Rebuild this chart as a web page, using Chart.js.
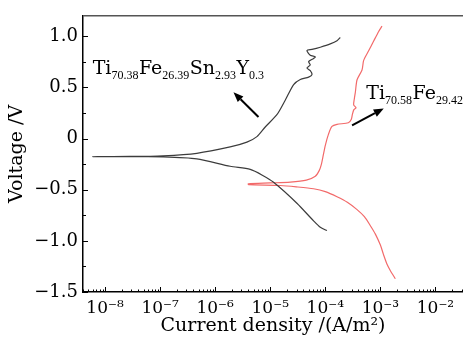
<!DOCTYPE html>
<html><head><meta charset="utf-8">
<script src="https://cdn.jsdelivr.net/npm/chart.js@4/dist/chart.umd.min.js"></script>
<style>html,body{margin:0;padding:0;background:#fff;}#wrap{width:463px;height:339px;position:relative;}</style>
</head><body><div id="wrap"><canvas id="c" width="463" height="339"></canvas></div>
<script>
// ---- data (current density A/m², voltage V) ----
const X_TICK_EXPONENTS = [-8, -7, -6, -5, -4, -3, -2];
const Y_TICKS = [-1.5, -1.0, -0.5, 0, 0.5, 1.0];

// Ti70.38Fe26.39Sn2.93Y0.3 : cathodic end -> corrosion point -> anodic end
const snY_current = [1.07e-4, 8.11e-5, 6.12e-5, 3.05e-5, 1.15e-5, 7.17e-6, 4.33e-6, 1.87e-6, 4.64e-7, 1.135e-7, 2.85e-8, 5.97e-9,
  2.85e-8, 1.135e-7, 4.64e-7, 1.87e-6, 3.77e-6, 5.73e-6, 8.11e-6, 1.32e-5, 1.87e-5, 2.66e-5, 3.51e-5, 4.97e-5, 5.73e-5, 5.33e-5,
  4.64e-5, 5.33e-5, 4.97e-5, 6.12e-5, 6.58e-5, 5.33e-5, 4.64e-5, 5.73e-5, 8.11e-5, 1.23e-4, 1.63e-4, 1.87e-4];
const snY_voltage = [-0.899, -0.868, -0.805, -0.632, -0.427, -0.358, -0.302, -0.271, -0.198, -0.179, -0.178, -0.176,
  -0.175, -0.168, -0.144, -0.082, -0.035, 0.019, 0.113, 0.233, 0.375, 0.528, 0.578, 0.601, 0.625, 0.663,
  0.689, 0.720, 0.752, 0.783, 0.799, 0.814, 0.861, 0.871, 0.893, 0.925, 0.956, 0.988];

// Ti70.58Fe29.42
const fe_current = [1.87e-3, 1.52e-3, 1.32e-3, 1.135e-3, 1.0e-3, 8.11e-4, 6.58e-4, 5.12e-4, 3.77e-4, 2.51e-4, 1.63e-4, 1.0e-4, 6.12e-5, 2.97e-5, 1.52e-5, 4.03e-6,
  3.98e-6, 1.0e-5, 2.31e-5, 4.52e-5, 6.58e-5, 7.78e-5, 8.45e-5, 9.2e-5, 1.0e-4, 1.135e-4, 1.32e-4, 1.63e-4, 2.62e-4, 2.97e-4, 3.10e-4, 3.30e-4,
  3.61e-4, 3.27e-4, 3.36e-4, 3.51e-4, 3.77e-4, 4.64e-4, 4.97e-4, 6.12e-4, 7.55e-4, 9.31e-4, 1.07e-3];
const fe_voltage = [-1.371, -1.292, -1.229, -1.132, -1.041, -0.934, -0.852, -0.764, -0.695, -0.623, -0.569, -0.519, -0.491, -0.472, -0.459, -0.450,
  -0.443, -0.434, -0.425, -0.406, -0.368, -0.311, -0.255, -0.160, -0.066, 0.038, 0.118, 0.139, 0.154, 0.189, 0.236, 0.283,
  0.302, 0.330, 0.387, 0.453, 0.575, 0.670, 0.764, 0.858, 0.953, 1.047, 1.099];

// annotation labels (anchored in data space)
const label1_parts = [["Ti", "70.38"], ["Fe", "26.39"], ["Sn", "2.93"], ["Y", "0.3"]];
const label1_anchor = [5.97e-9, 0.632];
const arrow1 = [[6.12e-6, 0.210], [2.15e-6, 0.453]];
const label2_parts = [["Ti", "70.58"], ["Fe", "29.42"]];
const label2_anchor = [5.56e-4, 0.390];
const arrow2 = [[3.06e-4, 0.129], [1.15e-3, 0.295]];

const FONT = "'DejaVu Serif', 'Liberation Serif', serif";
const SUB = {'-':'\u207B','0':'\u2070','1':'\u00B9','2':'\u00B2','3':'\u00B3','4':'\u2074','5':'\u2075','6':'\u2076','7':'\u2077','8':'\u2078','9':'\u2079'};
const toPts = (xs, ys) => xs.map((x, i) => ({x: x, y: ys[i]}));

const decor = {
  id: 'decor',
  afterDraw(chart) {
    const {ctx, chartArea: a, scales: {x, y}} = chart;
    ctx.save();
    // frame top
    ctx.strokeStyle = '#555'; ctx.lineWidth = 1.5;
    ctx.beginPath(); ctx.moveTo(a.left, a.top); ctx.lineTo(a.right, a.top); ctx.stroke();
    // ticks (inward)
    ctx.strokeStyle = '#000'; ctx.lineWidth = 1;
    ctx.beginPath();
    for (let e = -9; e <= -1; e++) {
      for (let k = 1; k <= 9; k++) {
        const v = k * Math.pow(10, e);
        if (v < x.min || v > x.max) continue;
        const px = Math.round(x.getPixelForValue(v)) + 0.5;
        const len = k === 1 ? 5 : 2.5;
        ctx.moveTo(px, a.bottom); ctx.lineTo(px, a.bottom - len);
      }
    }
    for (let v = -1.5; v <= 1.2001; v += 0.25) {
      const py = Math.round(y.getPixelForValue(v)) + 0.5;
      const major = Math.abs(v * 2 - Math.round(v * 2)) < 1e-6;
      ctx.moveTo(a.left, py); ctx.lineTo(a.left + (major ? 5 : 3), py);
    }
    ctx.stroke();
    // labels
    const drawChem = (parts, anchor) => {
      let px = x.getPixelForValue(anchor[0]);
      const py = y.getPixelForValue(anchor[1]);
      ctx.fillStyle = '#000'; ctx.textBaseline = 'alphabetic'; ctx.textAlign = 'left';
      for (const [el, n] of parts) {
        ctx.font = "19px " + FONT;
        ctx.fillText(el, px, py); px += ctx.measureText(el).width;
        ctx.font = "12px 'Liberation Serif', serif";
        ctx.fillText(n, px, py + 5); px += ctx.measureText(n).width + 0.5;
      }
    };
    drawChem(label1_parts, label1_anchor);
    drawChem(label2_parts, label2_anchor);
    const drawArrow = (seg) => {
      const x0 = x.getPixelForValue(seg[0][0]), y0 = y.getPixelForValue(seg[0][1]);
      const x1 = x.getPixelForValue(seg[1][0]), y1 = y.getPixelForValue(seg[1][1]);
      const ang = Math.atan2(y1 - y0, x1 - x0);
      const hl = 10, hw = 4;
      const bx = x1 - hl * Math.cos(ang), by = y1 - hl * Math.sin(ang);
      ctx.strokeStyle = '#000'; ctx.lineWidth = 2;
      ctx.beginPath(); ctx.moveTo(x0, y0); ctx.lineTo(bx, by); ctx.stroke();
      ctx.fillStyle = '#000';
      ctx.beginPath(); ctx.moveTo(x1, y1);
      ctx.lineTo(bx + hw * Math.sin(ang), by - hw * Math.cos(ang));
      ctx.lineTo(bx - hw * Math.sin(ang), by + hw * Math.cos(ang));
      ctx.closePath(); ctx.fill();
    };
    drawArrow(arrow1); drawArrow(arrow2);
    ctx.restore();
  }
};

new Chart(document.getElementById('c'), {
  type: 'scatter',
  data: {
    datasets: [
      {label: 'Ti70.38Fe26.39Sn2.93Y0.3', data: toPts(snY_current, snY_voltage), showLine: true, borderColor: '#3c3c3c', borderWidth: 1.2, pointRadius: 0, tension: 0.25},
      {label: 'Ti70.58Fe29.42', data: toPts(fe_current, fe_voltage), showLine: true, borderColor: '#f26a6a', borderWidth: 1.2, pointRadius: 0, tension: 0.25}
    ]
  },
  options: {
    responsive: false, animation: false,
    layout: {padding: {top: 6, right: 0, left: 0, bottom: 0}},
    plugins: {legend: {display: false}, tooltip: {enabled: false}},
    scales: {
      x: {
        type: 'logarithmic', min: Math.pow(10, -8.4), max: Math.pow(10, -1.5),
        afterBuildTicks: s => { s.ticks = X_TICK_EXPONENTS.map(e => ({value: Math.pow(10, e), major: true})); },
        afterFit: s => { s.height = 47; },
        grid: {display: false, drawTicks: false},
        border: {display: true, color: '#000', width: 1.5},
        ticks: {
          autoSkip: false, maxRotation: 0, padding: 6, color: '#000', font: {family: FONT, size: 17},
          callback: v => '10' + String(Math.round(Math.log10(v))).split('').map(c => SUB[c]).join('')
        },
        title: {display: true, text: 'Current density /(A/m\u00B2)', color: '#000', font: {family: FONT, size: 19}, padding: {top: 0, bottom: 2}}
      },
      y: {
        type: 'linear', min: -1.5, max: 1.2,
        afterBuildTicks: s => { s.ticks = Y_TICKS.map(v => ({value: v})); },
        afterFit: s => { s.width = 83; },
        grid: {display: false, drawTicks: false},
        border: {display: true, color: '#000', width: 1.5},
        ticks: {
          padding: 5, color: '#000', font: {family: FONT, size: 18},
          callback: v => v === 0 ? '0' : (v < 0 ? '\u2212' : '') + Math.abs(v).toFixed(1)
        },
        title: {display: true, text: 'Voltage /V', color: '#000', font: {family: FONT, size: 19}, padding: {top: 6, bottom: 0}}
      }
    }
  },
  plugins: [decor]
});
</script></body></html>
